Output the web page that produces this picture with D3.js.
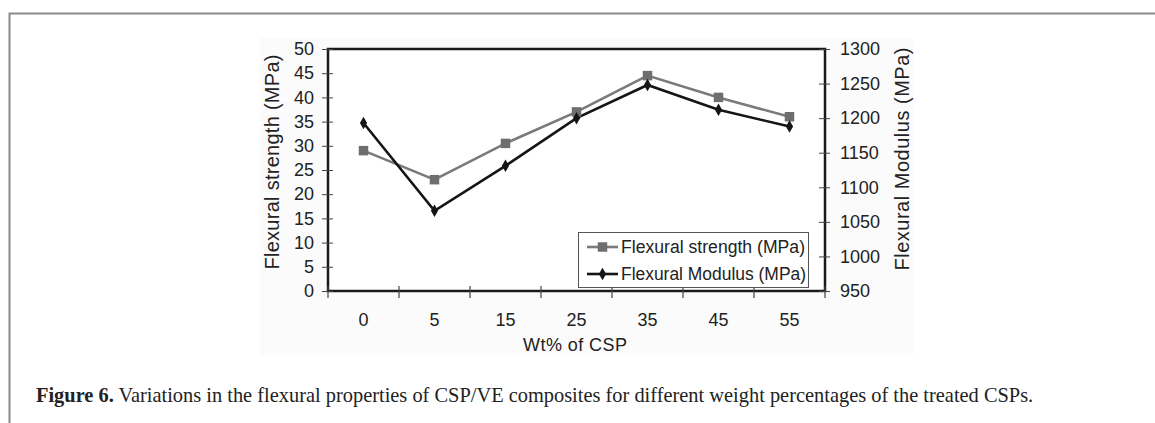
<!DOCTYPE html>
<html><head><meta charset="utf-8">
<script src="https://cdn.jsdelivr.net/npm/d3@7"></script>
<style>body{margin:0;background:#fff;}svg{display:block;}</style>
</head><body><svg id="c" width="1155" height="423"></svg>
<script>
const categories = ["0","5","15","25","35","45","55"];
const strength = [29, 23, 30.5, 37, 44.5, 40, 36];
const modulus = [1193, 1066, 1131, 1200, 1248, 1212, 1188];
const leftTicks = [0,5,10,15,20,25,30,35,40,45,50];
const rightTicks = [950,1000,1050,1100,1150,1200,1250,1300];
const seriesNames = ["Flexural strength (MPa)", "Flexural Modulus (MPa)"];

const svg = d3.select("#c");
const font = "'Liberation Sans', Arial, sans-serif";
// page frame
svg.append("path").attr("d","M9.5,423 V13.5 H1155").attr("fill","none").attr("stroke","#8a8a8a").attr("stroke-width",2);
// faint picture background
svg.append("rect").attr("x",260).attr("y",38).attr("width",653).attr("height",317).attr("fill","#fbfbfb");

const L=328, R=825, T=49, B=291;
const x = d3.scaleBand().domain(categories).range([L,R]);
const yL = d3.scaleLinear().domain([0,50]).range([B,T]);
const yR = d3.scaleLinear().domain([950,1300]).range([B,T]);

// plot box
svg.append("rect").attr("x",L).attr("y",T).attr("width",R-L).attr("height",B-T).attr("fill","#fff").attr("stroke","#1a1a1a").attr("stroke-width",2.5);

// left axis
const gL = svg.append("g").attr("transform",`translate(${L},0)`)
  .call(d3.axisLeft(yL).tickValues(leftTicks).tickFormat(d3.format("d")).tickSize(5).tickPadding(10));
gL.select(".domain").remove();
gL.selectAll(".tick line").attr("x1",5).attr("x2",-6).attr("stroke","#444");
gL.selectAll("text").attr("font-family",font).attr("font-size",18).attr("fill","#222").attr("x",-14);

// right axis
const gR = svg.append("g").attr("transform",`translate(${R},0)`)
  .call(d3.axisRight(yR).tickValues(rightTicks).tickFormat(d3.format("d")).tickSize(5).tickPadding(10));
gR.select(".domain").remove();
gR.selectAll(".tick line").attr("x1",-6).attr("x2",5).attr("stroke","#444");
gR.selectAll("text").attr("font-family",font).attr("font-size",18).attr("fill","#222").attr("x",15);

// bottom axis: ticks at band boundaries
const gB = svg.append("g").attr("transform",`translate(0,${B})`)
  .call(d3.axisBottom(x).tickSize(0).tickPadding(22));
gB.select(".domain").remove();
gB.selectAll("text").attr("font-family",font).attr("font-size",18).attr("fill","#222");
const bounds = categories.map(c=>x(c)).concat([x(categories[categories.length-1])+x.bandwidth()]);
svg.append("g").selectAll("line").data(bounds).join("line")
  .attr("x1",d=>d).attr("x2",d=>d).attr("y1",B-5).attr("y2",B+7).attr("stroke","#444").attr("stroke-width",1.2);

// axis titles
svg.append("text").attr("transform",`translate(279,162) rotate(-90)`).attr("text-anchor","middle")
  .attr("font-family",font).attr("font-size",20).attr("fill","#222").attr("textLength",215).attr("lengthAdjust","spacing").text("Flexural strength (MPa)");
svg.append("text").attr("transform",`translate(909,159) rotate(-90)`).attr("text-anchor","middle")
  .attr("font-family",font).attr("font-size",20).attr("fill","#222").attr("textLength",223).attr("lengthAdjust","spacing").text("Flexural Modulus (MPa)");
svg.append("text").attr("x",575).attr("y",351).attr("text-anchor","middle")
  .attr("font-family",font).attr("font-size",18).attr("fill","#222").attr("textLength",104).attr("lengthAdjust","spacing").text("Wt% of CSP");

const cx = c => x(c)+x.bandwidth()/2;
const lineS = d3.line().x((d,i)=>cx(categories[i])).y(d=>yL(d));
const lineM = d3.line().x((d,i)=>cx(categories[i])).y(d=>yR(d));
svg.append("path").attr("d",lineS(strength)).attr("fill","none").attr("stroke","#7a7a7a").attr("stroke-width",2.6);
svg.append("path").attr("d",lineM(modulus)).attr("fill","none").attr("stroke","#151515").attr("stroke-width",2.6);
const sq = d3.symbol().type(d3.symbolSquare).size(90);
const dm = d3.symbol().type(d3.symbolDiamond).size(45);
svg.append("g").selectAll("path").data(strength).join("path")
  .attr("transform",(d,i)=>`translate(${cx(categories[i])},${yL(d)})`).attr("d",sq).attr("fill","#6e6e6e");
svg.append("g").selectAll("path").data(modulus).join("path")
  .attr("transform",(d,i)=>`translate(${cx(categories[i])},${yR(d)})`).attr("d",dm).attr("fill","#151515");

// legend
const lg = svg.append("g");
lg.append("rect").attr("x",578.5).attr("y",232.5).attr("width",230).attr("height",55).attr("fill","#fff").attr("stroke","#555").attr("stroke-width",1);
const ly = [247, 274];
lg.append("line").attr("x1",587).attr("x2",618).attr("y1",ly[0]).attr("y2",ly[0]).attr("stroke","#7a7a7a").attr("stroke-width",2.6);
lg.append("path").attr("transform",`translate(602.5,${ly[0]})`).attr("d",sq).attr("fill","#6e6e6e");
lg.append("line").attr("x1",587).attr("x2",618).attr("y1",ly[1]).attr("y2",ly[1]).attr("stroke","#151515").attr("stroke-width",2.6);
lg.append("path").attr("transform",`translate(602.5,${ly[1]})`).attr("d",dm).attr("fill","#151515");
lg.selectAll("text.l").data(seriesNames).join("text").attr("x",621).attr("y",(d,i)=>ly[i]).attr("dy","0.36em")
  .attr("font-family",font).attr("font-size",17.5).attr("fill","#222").attr("textLength",(d,i)=>i?185:184).attr("lengthAdjust","spacingAndGlyphs").text(d=>d);

// caption
const cap = svg.append("text").attr("x",36).attr("y",402).attr("font-family","'Liberation Serif','DejaVu Serif',serif").attr("font-size",20.4).attr("fill","#222");
cap.append("tspan").attr("font-weight","bold").text("Figure 6.");
cap.append("tspan").text(" Variations in the flexural properties of CSP/VE composites for different weight percentages of the treated CSPs.");
</script></body></html>
